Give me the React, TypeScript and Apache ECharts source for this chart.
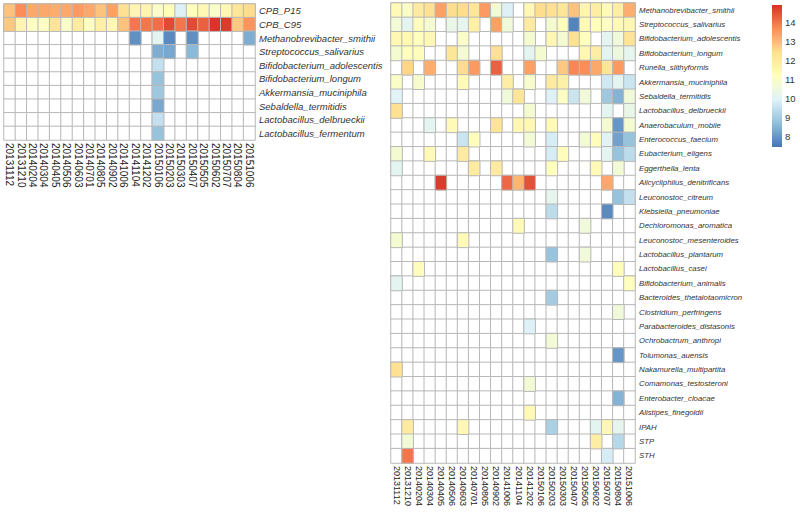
import React, { useEffect, useRef } from "react";
import * as echarts from "echarts";

const N = null;

const dates = [
  "20131112", "20131210", "20140204", "20140304", "20140405", "20140506",
  "20140603", "20140701", "20140805", "20140902", "20141006", "20141104",
  "20141202", "20150106", "20150203", "20150303", "20150407", "20150505",
  "20150602", "20150707", "20150804", "20151006",
];

const leftRows = [
  "CPB_P15", "CPB_C95", "Methanobrevibacter_smithii", "Streptococcus_salivarius",
  "Bifidobacterium_adolescentis", "Bifidobacterium_longum", "Akkermansia_muciniphila",
  "Sebaldella_termitidis", "Lactobacillus_delbrueckii", "Lactobacillus_fermentum",
];

const leftValues: (number | null)[][] = [
  [12.9, 13.7, 13.3, 13.3, 13.2, 13.3, 13.5, 13.3, 12.9, 13.4, 12.4, 11.6, 11.6, 11.0, 11.3, 9.9, 11.3, 11.5, 11.0, 11.5, 12.2, 12.5],
  [12.8, 11.6, 11.1, 11.1, 12.3, 11.0, 12.0, 11.1, 11.8, 11.5, 12.9, 14.0, 14.0, 14.1, 14.6, 14.0, 14.6, 14.3, 14.9, 14.8, 12.8, 13.6],
  [N, N, N, N, N, N, N, N, N, N, N, 7.9, N, 10.1, 7.8, N, 7.9, N, N, N, N, 8.4],
  [N, N, N, N, N, N, N, N, N, N, N, N, N, 8.4, 8.3, N, 8.6, N, N, N, N, N],
  [N, N, N, N, N, N, N, N, N, N, N, N, N, 9.5, N, N, N, N, N, N, N, N],
  [N, N, N, N, N, N, N, N, N, N, N, N, N, 8.8, N, N, N, N, N, N, N, N],
  [N, N, N, N, N, N, N, N, N, N, N, N, N, 8.9, N, N, N, N, N, N, N, N],
  [N, N, N, N, N, N, N, N, N, N, N, N, N, 8.3, N, N, N, N, N, N, N, N],
  [N, N, N, N, N, N, N, N, N, N, N, N, N, 9.5, N, N, N, N, N, N, N, N],
  [N, N, N, N, N, N, N, N, N, N, N, N, N, 8.8, N, N, N, N, N, N, N, N],
];

const rightRows = [
  "Methanobrevibacter_smithii", "Streptococcus_salivarius", "Bifidobacterium_adolescentis",
  "Bifidobacterium_longum", "Runella_slithyformis", "Akkermansia_muciniphila",
  "Sebaldella_termitidis", "Lactobacillus_delbrueckii", "Anaerobaculum_mobile",
  "Enterococcus_faecium", "Eubacterium_eligens", "Eggerthella_lenta",
  "Alicycliphilus_denitrificans", "Leuconostoc_citreum", "Klebsiella_pneumoniae",
  "Dechloromonas_aromatica", "Leuconostoc_mesenteroides", "Lactobacillus_plantarum",
  "Lactobacillus_casei", "Bifidobacterium_animalis", "Bacteroides_thetaiotaomicron",
  "Clostridium_perfringens", "Parabacteroides_distasonis", "Ochrobactrum_anthropi",
  "Tolumonas_auensis", "Nakamurella_multipartita", "Comamonas_testosteroni",
  "Enterobacter_cloacae", "Alistipes_finegoldii", "IPAH", "STP", "STH",
];

const rightValues: (number | null)[][] = [
  [11.4, 11.0, 12.0, 12.4, 13.4, 12.5, 12.5, 12.2, 13.5, 10.7, 9.9, N, 11.5, 12.5, 12.4, 12.2, 12.9, 11.6, 11.9, 11.4, 11.9, 13.2],
  [10.7, 10.1, 11.3, 10.8, N, 10.3, 10.2, 11.8, N, 13.4, 10.6, N, 12.0, N, 10.8, 11.3, 7.7, 11.4, 11.3, 11.2, 11.4, 11.5],
  [11.5, 11.5, 11.2, 11.5, N, N, 11.0, N, N, N, N, N, 10.8, N, 11.5, 10.8, 12.4, 11.2, N, 10.1, 10.6, 12.3],
  [10.8, 11.2, 11.3, N, N, 12.2, 10.8, N, N, 12.4, N, N, 10.1, 10.8, N, N, N, 11.5, 11.9, 10.1, 10.5, 10.2],
  [N, 12.6, N, 13.2, N, N, 12.5, 13.5, N, 14.3, N, N, 13.4, N, N, 12.8, 13.8, 13.7, 13.3, 12.3, 13.5, N],
  [11.0, N, 10.9, N, N, N, 11.4, N, N, N, 11.9, N, 10.9, N, 12.0, 11.8, N, N, N, 9.7, 10.1, 9.6],
  [10.0, N, N, N, N, N, N, N, N, N, 10.6, 12.2, N, N, 9.9, 11.1, 9.6, 10.6, N, 8.9, 8.5, 10.6],
  [12.4, N, N, N, N, N, N, N, N, N, N, N, 10.8, N, N, N, N, N, N, 10.1, N, 10.3],
  [N, N, N, 10.1, N, 11.4, N, N, N, 12.3, N, 11.5, 11.5, N, 11.4, N, N, N, N, 10.8, 8.0, 10.8],
  [N, N, N, N, N, N, 9.6, 11.3, N, N, N, N, 10.7, N, 9.8, N, N, 10.7, 11.3, 10.0, 8.2, 8.8],
  [10.8, N, N, 11.4, N, N, 12.0, N, N, N, N, N, N, N, 9.8, 11.3, N, N, N, 10.1, 8.8, 9.4],
  [10.1, N, N, N, N, N, N, 12.0, N, 12.0, N, N, N, N, 11.2, N, N, N, 11.4, N, 10.7, N],
  [N, N, N, N, 14.8, N, N, N, N, N, 14.2, 13.1, 14.5, N, N, N, N, N, N, 13.3, N, N],
  [N, N, N, N, N, N, N, N, N, N, N, N, N, N, 10.2, N, N, N, N, N, 8.8, 9.5],
  [N, N, N, N, N, N, N, N, N, N, N, N, N, N, 9.4, N, N, N, N, 7.8, N, N],
  [N, N, N, N, N, N, N, N, N, N, N, 11.4, N, N, N, N, N, 10.6, N, N, N, N],
  [10.8, N, N, N, N, N, 11.4, N, N, N, N, N, N, N, N, N, N, N, N, N, N, N],
  [N, N, N, N, N, N, N, N, N, N, N, N, N, N, 8.8, N, N, 10.6, N, N, N, N],
  [N, N, 11.3, N, N, N, N, N, N, N, N, N, N, N, N, N, N, N, N, N, 11.3, N],
  [10.1, N, N, N, N, N, N, N, N, N, N, N, N, N, N, N, N, N, N, N, N, 11.2],
  [N, N, N, N, N, N, N, N, N, N, N, N, N, N, 9.0, N, N, N, N, N, N, N],
  [N, N, N, N, N, N, N, N, N, N, N, N, N, N, N, N, N, N, N, N, 10.6, N],
  [N, N, N, N, N, N, N, N, N, N, N, N, 9.9, N, N, N, N, N, N, N, N, N],
  [N, N, N, N, N, N, N, N, N, N, N, N, N, N, 10.7, N, N, N, N, N, N, N],
  [N, N, N, N, N, N, N, N, N, N, N, N, N, N, N, N, N, N, N, N, 8.0, N],
  [12.4, N, N, N, N, N, N, N, N, N, N, N, N, N, N, N, N, N, N, N, N, N],
  [N, N, N, N, N, N, N, N, N, N, N, N, 10.7, N, N, N, N, N, N, N, N, N],
  [N, N, N, N, N, N, N, N, N, N, N, N, N, N, N, N, N, N, N, N, 8.5, N],
  [N, N, N, N, N, N, N, N, N, N, N, N, 11.4, N, N, N, N, N, N, N, N, N],
  [N, 12.0, N, N, N, N, 11.5, N, N, N, N, N, N, N, 9.1, N, N, N, 10.1, 11.5, 10.2, N],
  [N, 10.7, N, N, N, N, N, N, N, N, N, N, N, N, N, N, N, N, 11.9, N, 9.3, N],
  [N, 14.0, N, N, N, N, N, N, N, N, N, N, N, N, N, N, N, N, N, 9.8, N, N],
];

const paletteColors = ["#4575B4", "#91BFDB", "#E0F3F8", "#FFFFBF", "#FEE090", "#FC8D59", "#D73027"];
const scaleMin = 7.45;
const scaleMax = 14.95;
const legendTicks = [8, 9, 10, 11, 12, 13, 14];

const FONT = "'Liberation Sans', Arial, sans-serif";
const BORDER = "#b8b8b8";

function toCells(values: (number | null)[][]) {
  const out: [number, number, number][] = [];
  values.forEach((row, r) =>
    row.forEach((v, c) => {
      if (v !== null) out.push([c, r, v]);
    })
  );
  return out;
}

function blankCells(values: (number | null)[][]) {
  const out: [number, number, number][] = [];
  values.forEach((row, r) => row.forEach((_, c) => out.push([c, r, 0])));
  return out;
}

export default function App() {
  const ref = useRef<HTMLDivElement>(null);

  useEffect(() => {
    if (!ref.current) return;
    const chart = echarts.init(ref.current, undefined, { renderer: "svg" });

    const leftGrid = { left: 4, top: 4, width: 251, height: 136 };
    const rightGrid = { left: 391, top: 3, width: 244, height: 460 };
    const barGrid = { left: 772, top: 5, width: 10, height: 142 };

    const catX = (gridIndex: number, fontSize: number) => ({
      gridIndex,
      type: "category",
      data: dates,
      position: "bottom",
      axisLine: { show: false },
      axisTick: { show: false },
      splitLine: { show: false },
      axisLabel: {
        rotate: -90,
        interval: 0,
        margin: 3,
        fontSize,
        color: "#222",
        fontFamily: FONT,
      },
    });

    const catY = (gridIndex: number, rows: string[], fontSize: number) => ({
      gridIndex,
      type: "category",
      data: rows,
      inverse: true,
      position: "right",
      axisLine: { show: false },
      axisTick: { show: false },
      splitLine: { show: false },
      axisLabel: {
        interval: 0,
        margin: 4,
        fontSize,
        fontStyle: "italic",
        color: "#333",
        fontFamily: FONT,
      },
    });

    const bgSeries = (idx: number, values: (number | null)[][]) => ({
      type: "heatmap",
      xAxisIndex: idx,
      yAxisIndex: idx,
      data: blankCells(values),
      silent: true,
      itemStyle: { borderColor: BORDER, borderWidth: 1 },
      emphasis: { disabled: true },
    });

    const dataSeries = (idx: number, values: (number | null)[][]) => ({
      type: "heatmap",
      xAxisIndex: idx,
      yAxisIndex: idx,
      data: toCells(values),
      silent: true,
      itemStyle: { borderColor: BORDER, borderWidth: 1 },
      emphasis: { disabled: true },
    });

    const gradStops = paletteColors
      .slice()
      .reverse()
      .map((c, i) => ({ offset: i / (paletteColors.length - 1), color: c }));

    chart.setOption({
      animation: false,
      backgroundColor: "#ffffff",
      grid: [leftGrid, rightGrid, barGrid],
      xAxis: [
        catX(0, 10),
        catX(1, 9),
        { gridIndex: 2, type: "value", show: false, min: 0, max: 1 },
      ],
      yAxis: [
        catY(0, leftRows, 9.5),
        catY(1, rightRows, 7.8),
        {
          gridIndex: 2,
          type: "value",
          min: scaleMin,
          max: scaleMax,
          position: "right",
          axisLine: { show: false },
          axisTick: { show: false },
          splitLine: { show: false },
          axisLabel: {
            customValues: legendTicks,
            margin: 3,
            fontSize: 9.5,
            color: "#333",
            fontFamily: FONT,
          },
        },
      ],
      visualMap: [
        {
          type: "continuous",
          show: false,
          min: scaleMin,
          max: scaleMax,
          seriesIndex: [1, 3],
          inRange: { color: paletteColors },
        },
        {
          type: "continuous",
          show: false,
          min: 0,
          max: 1,
          seriesIndex: [0, 2],
          inRange: { color: ["#ffffff", "#ffffff"] },
        },
      ],
      graphic: [
        {
          type: "rect",
          silent: true,
          shape: { x: barGrid.left, y: barGrid.top, width: barGrid.width, height: barGrid.height },
          style: { fill: new echarts.graphic.LinearGradient(0, 0, 0, 1, gradStops) },
        },
      ],
      series: [
        bgSeries(0, leftValues),
        dataSeries(0, leftValues),
        bgSeries(1, rightValues),
        dataSeries(1, rightValues),
      ],
    });

    return () => chart.dispose();
  }, []);

  return (
    <div
      ref={ref}
      style={{ position: "fixed", left: 0, top: 0, width: 800, height: 512 }}
    />
  );
}
